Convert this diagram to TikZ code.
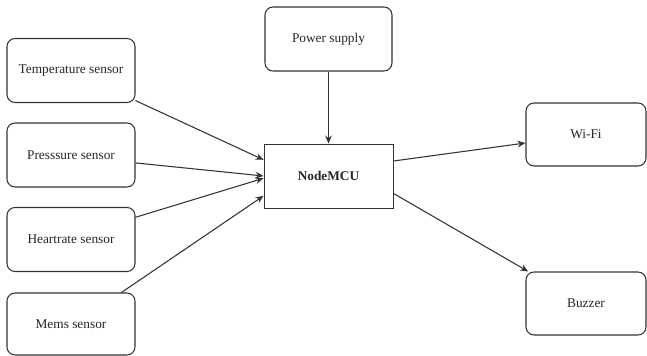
\documentclass[tikz,border=0pt]{standalone}
\usepackage{fontspec}
\setmainfont{Liberation Serif}
\usetikzlibrary{arrows.meta,positioning}

\begin{document}
\begin{tikzpicture}[
  x=0.75pt,y=-0.75pt,
  font=\fontsize{10}{12}\selectfont,
  >={Stealth[length=6pt,width=5pt]},
  box/.style={draw=black!80,line width=0.8pt,align=center,inner sep=2pt,text=black!85},
  sensor/.style={box,rounded corners=6pt,minimum width=96pt,minimum height=48pt},
  unit/.style={box,line width=0.65pt,minimum width=96.75pt,minimum height=48pt,font=\fontsize{10}{12}\selectfont\bfseries},
  link/.style={->,draw=black!80,line width=0.8pt},
]
\useasboundingbox (0,0) rectangle (647,356);

% column 1: sensors
\node[sensor] (temp)  at (71,70.5) {Temperature sensor};
\node[sensor] (pres)  at (71,155)  {Presssure sensor};
\node[sensor] (heart) at (71,239.5) {Heartrate sensor};
\node[sensor,minimum height=46.5pt] (mems) at (71,324) {Mems sensor};

% column 2: supply and controller
\node[sensor,minimum width=95.25pt] (power) at (328.5,39) {Power supply};
\node[unit] (mcu) at (328.5,176) {NodeMCU};

% column 3: outputs
\node[sensor,minimum width=90pt,minimum height=47.25pt] (wifi) at (586,134.5) {Wi-Fi};
\node[sensor,minimum width=90pt,minimum height=47.25pt] (buzz) at (586,303.5) {Buzzer};

% edges
\draw[link] (power.south) -- (mcu.north);
\draw[link] (temp.-25)  -- (mcu.166);
\draw[link] (pres.-7)   -- (mcu.180);
\draw[link] (heart.19)  -- (mcu.182);
\draw[link] (mems.32)   -- (mcu.197);
\draw[link] (mcu.13)    -- (wifi.188);
\draw[link] (mcu.-15)   -- (buzz.151);

\end{tikzpicture}
\end{document}
